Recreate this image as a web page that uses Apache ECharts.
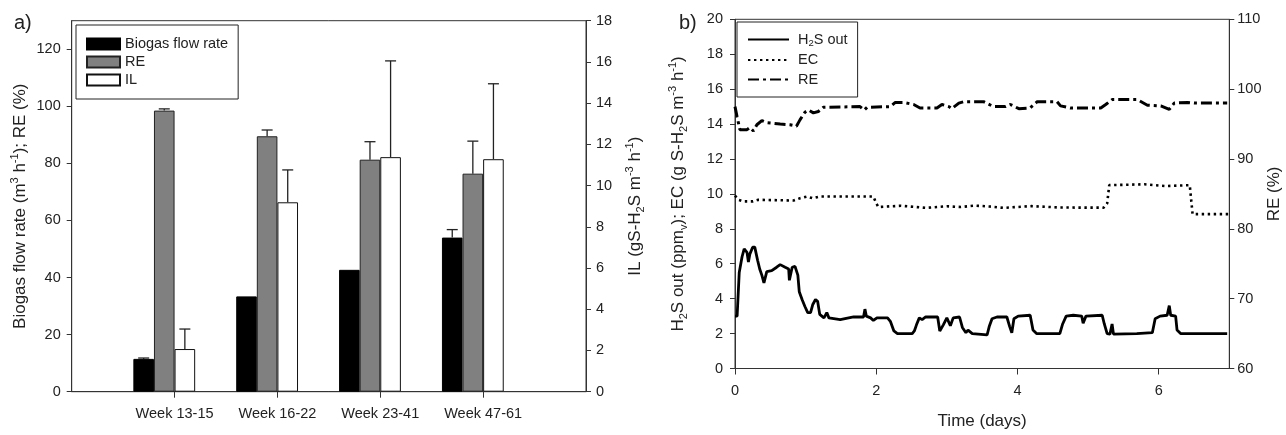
<!DOCTYPE html>
<html><head><meta charset="utf-8">
<script src="https://cdn.jsdelivr.net/npm/echarts@6/dist/echarts.min.js"></script>
<style>html,body{margin:0;padding:0;background:#fff}#c{width:1286px;height:435px}</style>
</head><body><div id="c"></div>
<script>
// ---------- Panel a data ----------
const weeks = ['Week 13-15', 'Week 16-22', 'Week 23-41', 'Week 47-61'];
const biogasFlow = [11.5, 33.4, 42.7, 54.0];
const biogasErr  = [0.3, 0, 0, 2.8];
const reBar      = [98.5, 89.5, 81.3, 76.4];
const reBarErr   = [0.6, 2.2, 6.3, 11.4];
const ilBar      = [2.07, 9.19, 11.38, 11.28];
const ilErr      = [0.97, 1.57, 4.67, 3.66];

// ---------- Panel b data ----------
const h2sDays = [0,0.03,0.06,0.1,0.13,0.17,0.19,0.21,0.25,0.28,0.32,0.35,0.38,0.41,0.45,0.52,0.59,0.64,0.71,0.76,0.77,0.81,0.85,0.89,0.91,0.95,0.99,1.03,1.07,1.1,1.14,1.17,1.2,1.26,1.3,1.33,1.49,1.61,1.68,1.82,1.84,1.86,1.92,1.96,2.01,2.16,2.2,2.25,2.3,2.51,2.54,2.57,2.61,2.65,2.7,2.87,2.9,2.95,3.0,3.05,3.09,3.18,3.22,3.27,3.3,3.36,3.57,3.6,3.64,3.71,3.85,3.89,3.92,3.95,4.01,4.18,4.22,4.27,4.6,4.64,4.69,4.79,4.91,4.93,4.97,5.2,5.23,5.27,5.31,5.34,5.36,5.69,5.91,5.95,6.02,6.12,6.15,6.17,6.24,6.26,6.31,6.97];
const h2sOut  = [3.0,3.0,5.5,6.4,6.85,6.65,6.1,6.55,6.95,6.95,6.2,5.7,5.35,4.9,5.55,5.6,5.8,5.95,5.8,5.7,5.05,5.8,5.85,5.35,4.4,3.95,3.55,3.2,3.2,3.65,3.95,3.85,3.1,2.9,3.2,2.9,2.8,2.9,2.95,2.95,3.4,3.0,2.9,2.75,2.9,2.9,2.7,2.15,2.0,2.0,2.15,2.5,2.9,2.8,2.95,2.95,2.15,2.5,2.9,2.45,2.9,2.95,2.35,2.05,2.2,2.0,1.92,2.4,2.85,2.95,2.95,2.4,2.05,2.85,3.0,3.05,2.2,2.0,2.0,2.55,3.0,3.05,3.0,2.6,3.0,3.05,2.55,2.0,1.97,2.55,1.97,2.0,2.05,2.85,3.0,3.05,3.6,3.05,3.0,2.2,2.0,2.0];
const ecDays = [0,0.05,0.12,0.25,0.33,0.83,0.92,1.02,1.1,1.2,1.96,2.0,2.03,2.35,2.7,3.0,3.2,3.4,3.6,3.8,4.2,4.6,5.22,5.27,5.3,5.8,6.1,6.44,6.48,7.0];
const ecVals = [9.9,9.66,9.57,9.57,9.66,9.62,9.75,9.85,9.75,9.85,9.85,9.47,9.25,9.32,9.2,9.29,9.25,9.33,9.28,9.2,9.3,9.22,9.21,9.45,10.5,10.55,10.45,10.5,8.84,8.84];
const reDays = [0,0.03,0.07,0.17,0.21,0.26,0.31,0.38,0.45,0.64,0.78,0.87,0.92,0.99,1.04,1.11,1.18,1.25,1.77,1.83,1.87,2.2,2.27,2.39,2.53,2.62,2.86,2.93,3.03,3.07,3.17,3.24,3.52,3.66,3.83,3.9,4.02,4.18,4.28,4.56,4.61,4.75,5.18,5.25,5.34,5.7,5.84,6.03,6.15,6.22,6.41,6.5,6.97];
const reVals = [97.5,96.0,94.2,94.2,94.5,94.0,94.9,95.5,95.2,95.0,94.9,94.7,95.6,96.7,97.0,96.6,96.8,97.4,97.5,97.0,97.4,97.5,98.1,98.1,97.8,97.3,97.3,97.8,97.5,97.2,98.0,98.2,98.2,97.5,97.5,97.8,97.2,97.3,98.2,98.2,97.6,97.3,97.3,97.8,98.5,98.5,97.7,97.6,97.1,98.0,98.1,98.0,98.0];

// ---------- helpers / styling ----------
const FONT = "'Liberation Sans', Arial, sans-serif";
const TXT = '#222';
const AX = '#333';
const BAR_W = 20.6;
const CAP = 11;
const zip = (a, b) => a.map((v, i) => [v, b[i]]);
const padCat = ['', ...weeks, ''];
const padVals = arr => ['-', ...arr, '-'];
const nameRich = {
  n:   { fontSize: 17, lineHeight: 22, fontFamily: FONT, color: TXT },
  sup: { fontSize: 11, lineHeight: 12, verticalAlign: 'top', fontFamily: FONT, color: TXT },
  sub: { fontSize: 11, lineHeight: 12, verticalAlign: 'bottom', fontFamily: FONT, color: TXT }
};
const lblStyle = { fontSize: 14.5, color: TXT, fontFamily: FONT };
const axisCommon = {
  axisLine: { show: true, lineStyle: { color: AX, width: 1 } },
  axisTick: { show: true, inside: false, length: 5, lineStyle: { color: AX, width: 1 } },
  splitLine: { show: false }
};

function errSeries(name, vals, errs, yIdx, k) {
  return {
    type: 'custom', name: name, xAxisIndex: 0, yAxisIndex: yIdx, z: 5, silent: true,
    data: vals.map((v, i) => [i + 1, v, v + errs[i]]),
    renderItem: function (params, api) {
      const lo = api.value(1), hi = api.value(2);
      if (!(hi > lo)) return null;
      const p0 = api.coord([api.value(0), lo]);
      const p1 = api.coord([api.value(0), hi]);
      const cx = p0[0] + k * BAR_W;
      const st = { stroke: '#222', lineWidth: 1.3 };
      return { type: 'group', children: [
        { type: 'line', shape: { x1: cx, y1: p0[1], x2: cx, y2: p1[1] }, style: st },
        { type: 'line', shape: { x1: cx - CAP / 2, y1: p1[1], x2: cx + CAP / 2, y2: p1[1] }, style: st }
      ]};
    }
  };
}

const option = {
  animation: false,
  backgroundColor: '#fff',
  textStyle: { fontFamily: FONT },
  graphic: [
    { type: 'text', left: 14, top: 13, style: { text: 'a)', fontSize: 20, fill: TXT, fontFamily: FONT } },
    { type: 'text', left: 679, top: 13, style: { text: 'b)', fontSize: 20, fill: TXT, fontFamily: FONT } }
  ],
  grid: [
    { left: 71.7, top: 20.7, width: 514.3, height: 371, show: true, borderColor: AX, borderWidth: 1 },
    { left: 735, top: 19.3, width: 494.3, height: 356, show: true, borderColor: AX, borderWidth: 1 }
  ],
  legend: [
    {
      data: ['Biogas flow rate', 'RE', 'IL'],
      orient: 'vertical', left: 76, top: 25,
      padding: [11, 10, 11, 10],
      itemWidth: 33, itemHeight: 11, itemGap: 2,
      borderColor: '#222', borderWidth: 1,
      icon: 'rect',
      textStyle: { fontSize: 14.5, color: TXT, fontFamily: FONT, lineHeight: 16 }
    },
    {
      data: ['H2S out', 'EC', 'RE%'],
      orient: 'vertical', left: 737, top: 22,
      padding: [10, 10, 10, 10],
      itemWidth: 41, itemHeight: 15, itemGap: 4.5,
      borderColor: '#222', borderWidth: 1,
      itemStyle: { color: 'transparent', borderColor: 'transparent', borderWidth: 0, opacity: 0 },
      formatter: function (n) {
        if (n === 'H2S out') return '{t|H}{s|2}{t|S out}';
        if (n === 'RE%') return '{t|RE}';
        return '{t|' + n + '}';
      },
      textStyle: {
        fontSize: 14.5, color: TXT, fontFamily: FONT, padding: [0, 0, 0, 4],
        rich: {
          t: { fontSize: 14.5, lineHeight: 17, color: TXT, fontFamily: FONT },
          s: { fontSize: 9.5, lineHeight: 9, verticalAlign: 'bottom', color: TXT, fontFamily: FONT }
        }
      }
    }
  ],
  xAxis: [
    Object.assign({}, axisCommon, {
      gridIndex: 0, type: 'category', data: padCat, boundaryGap: false,
      axisTick: { show: true, length: 6, interval: (i, v) => v !== '', lineStyle: { color: AX } },
      axisLabel: Object.assign({ interval: (i, v) => v !== '', margin: 15 }, lblStyle)
    }),
    Object.assign({}, axisCommon, {
      gridIndex: 1, type: 'value', min: 0, max: 7, interval: 2,
      axisTick: { show: true, length: 6, lineStyle: { color: AX } },
      axisLabel: Object.assign({ margin: 15, showMaxLabel: false }, lblStyle),
      name: '{n|Time (days)}', nameLocation: 'middle', nameGap: 42,
      nameTextStyle: { rich: nameRich }
    })
  ],
  yAxis: [
    Object.assign({}, axisCommon, {
      gridIndex: 0, type: 'value', position: 'left', min: 0, max: 130, interval: 20,
      axisLabel: Object.assign({ margin: 11, showMaxLabel: false }, lblStyle),
      name: '{n|Biogas flow rate (m}{sup|3}{n| h}{sup|-1}{n|); RE (%)}',
      nameLocation: 'middle', nameGap: 40, nameTextStyle: { rich: nameRich }
    }),
    Object.assign({}, axisCommon, {
      gridIndex: 0, type: 'value', position: 'right', min: 0, max: 18, interval: 2,
      axisLabel: Object.assign({ margin: 10 }, lblStyle),
      name: '{n|IL (gS-H}{sub|2}{n|S m}{sup|-3}{n| h}{sup|-1}{n|)}',
      nameLocation: 'middle', nameGap: 38, nameTextStyle: { rich: nameRich }
    }),
    Object.assign({}, axisCommon, {
      gridIndex: 1, type: 'value', position: 'left', min: 0, max: 20, interval: 2,
      axisLabel: Object.assign({ margin: 12 }, lblStyle),
      name: '{n|H}{sub|2}{n|S out (ppm}{sub|v}{n|); EC (g S-H}{sub|2}{n|S m}{sup|-3}{n| h}{sup|-1}{n|)}',
      nameLocation: 'middle', nameGap: 46, nameTextStyle: { rich: nameRich }
    }),
    Object.assign({}, axisCommon, {
      gridIndex: 1, type: 'value', position: 'right', min: 60, max: 110, interval: 10,
      axisLabel: Object.assign({ margin: 8 }, lblStyle),
      name: '{n|RE (%)}', nameLocation: 'middle', nameGap: 33, nameTextStyle: { rich: nameRich }
    })
  ],
  series: [
    { type: 'bar', name: 'Biogas flow rate', xAxisIndex: 0, yAxisIndex: 0, data: padVals(biogasFlow),
      barWidth: BAR_W, barGap: '0%', itemStyle: { color: '#000', borderColor: '#000', borderWidth: 1 } },
    { type: 'bar', name: 'RE', xAxisIndex: 0, yAxisIndex: 0, data: padVals(reBar),
      barWidth: BAR_W, barGap: '0%', itemStyle: { color: '#808080', borderColor: '#222', borderWidth: 1 } },
    { type: 'bar', name: 'IL', xAxisIndex: 0, yAxisIndex: 1, data: padVals(ilBar),
      barWidth: BAR_W, barGap: '0%', itemStyle: { color: '#fff', borderColor: '#111', borderWidth: 1 } },
    { type: 'bar', name: '_slot', xAxisIndex: 0, yAxisIndex: 0, data: padCat.map(() => '-'),
      barWidth: BAR_W, barGap: '0%', silent: true, itemStyle: { color: 'transparent' } },
    errSeries('errBiogas', biogasFlow, biogasErr, 0, -1.5),
    errSeries('errRE', reBar, reBarErr, 0, -0.5),
    errSeries('errIL', ilBar, ilErr, 1, 0.5),
    { type: 'line', name: 'H2S out', xAxisIndex: 1, yAxisIndex: 2, data: zip(h2sDays, h2sOut),
      showSymbol: false, symbol: 'none', lineStyle: { color: '#000', width: 2.8 }, itemStyle: { color: '#000' } },
    { type: 'line', name: 'EC', xAxisIndex: 1, yAxisIndex: 2, data: zip(ecDays, ecVals),
      showSymbol: false, symbol: 'none', lineStyle: { color: '#000', width: 2.6, type: [2.4, 3.6] }, itemStyle: { color: '#000' } },
    { type: 'line', name: 'RE%', xAxisIndex: 1, yAxisIndex: 3, data: zip(reDays, reVals),
      showSymbol: false, symbol: 'none', lineStyle: { color: '#000', width: 3, type: [11, 4, 3, 4] }, itemStyle: { color: '#000' } }
  ]
};

const chart = echarts.init(document.getElementById('c'), null, { renderer: 'canvas' });
chart.setOption(option);
</script>
</body></html>
